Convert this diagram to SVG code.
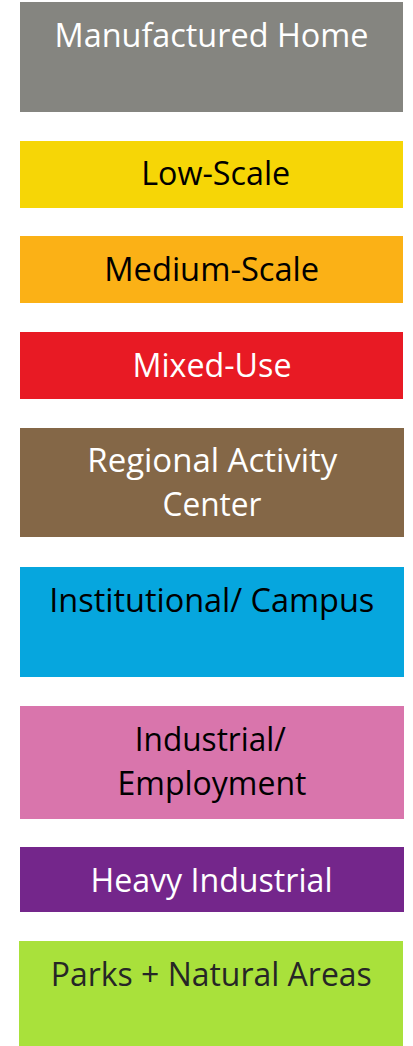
<svg xmlns="http://www.w3.org/2000/svg" width="413" height="1046" viewBox="0 0 413 1046">
  <style>
    .lbl { font-family: "Open Sans", "Noto Sans", "Liberation Sans", sans-serif; font-size: 33px; text-anchor: middle; }
    .w { fill: #ffffff; }
    .k { fill: #000000; }
    .d { fill: #262626; }
  </style>
  <rect width="413" height="1046" fill="#ffffff"/>
  <g id="manufactured-home">
    <rect x="20" y="2" width="383" height="110" fill="#858580"/>
    <text class="lbl w" x="211.5" y="47.3" textLength="314" lengthAdjust="spacingAndGlyphs">Manufactured Home</text>
  </g>
  <g id="low-scale">
    <rect x="20" y="141" width="383" height="67" fill="#F6D606"/>
    <text class="lbl k" x="215.7" y="185" textLength="149" lengthAdjust="spacingAndGlyphs">Low-Scale</text>
  </g>
  <g id="medium-scale">
    <rect x="20" y="236" width="383" height="67" fill="#FBB116"/>
    <text class="lbl k" x="211.7" y="281" textLength="215" lengthAdjust="spacingAndGlyphs">Medium-Scale</text>
  </g>
  <g id="mixed-use">
    <rect x="20" y="332" width="383" height="67" fill="#E81A24"/>
    <text class="lbl w" x="212" y="376.7" textLength="159" lengthAdjust="spacingAndGlyphs">Mixed-Use</text>
  </g>
  <g id="regional-activity-center">
    <rect x="20" y="428" width="384" height="109" fill="#846747"/>
    <text class="lbl w" x="212.3" y="471.7" textLength="250" lengthAdjust="spacingAndGlyphs">Regional Activity</text>
    <text class="lbl w" x="212" y="516" textLength="99" lengthAdjust="spacingAndGlyphs">Center</text>
  </g>
  <g id="institutional-campus">
    <rect x="20" y="567" width="384" height="110" fill="#06A6DE"/>
    <text class="lbl k" x="211.8" y="612" textLength="325" lengthAdjust="spacingAndGlyphs">Institutional/ Campus</text>
  </g>
  <g id="industrial-employment">
    <rect x="20" y="706" width="384" height="113" fill="#D975AC"/>
    <text class="lbl k" x="210.3" y="750.7" textLength="151" lengthAdjust="spacingAndGlyphs">Industrial/</text>
    <text class="lbl k" x="212" y="795" textLength="189" lengthAdjust="spacingAndGlyphs">Employment</text>
  </g>
  <g id="heavy-industrial">
    <rect x="20" y="847" width="384" height="65" fill="#74268B"/>
    <text class="lbl w" x="211.5" y="891.7" textLength="242" lengthAdjust="spacingAndGlyphs">Heavy Industrial</text>
  </g>
  <g id="parks-natural-areas">
    <rect x="19" y="941" width="384" height="105" fill="#A9E13B"/>
    <text class="lbl d" x="211.3" y="985.7" textLength="321" lengthAdjust="spacingAndGlyphs">Parks + Natural Areas</text>
  </g>
  <g id="connectors"/>
</svg>
